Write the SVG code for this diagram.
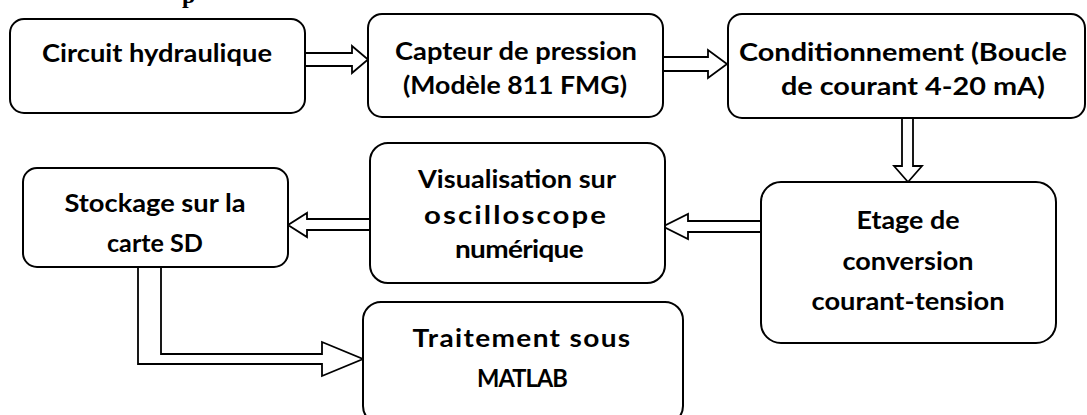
<svg xmlns="http://www.w3.org/2000/svg" width="1087" height="415" viewBox="0 0 1087 415">
<style>
.box{fill:#fff;stroke:#000;stroke-width:2}
.arr{fill:#fff;stroke:#000;stroke-width:1.8;stroke-linejoin:miter}
.t{font-family:Lato,"Open Sans","Liberation Sans",sans-serif;font-weight:bold;font-size:25px;fill:#000;text-anchor:middle}
.ttl{font-family:"Liberation Serif",serif;font-weight:bold;font-size:24px;fill:#000}
</style>
<rect width="1087" height="415" fill="#fff"/>
<text class="ttl" x="182" y="3">p</text>
<g id="connectors">
<polygon class="arr" points="305,53 352,53 352,46 368,59.5 352,73 352,66 305,66"/>
<polygon class="arr" points="663,57 708,57 708,50 727,64 708,78 708,71 663,71"/>
<polygon class="arr" points="902,118 913,118 913,166 922,166 908,182 894,166 902,166"/>
<polygon class="arr" points="761,221 688,221 688,214 663,226.5 688,239 688,232 761,232"/>
<polygon class="arr" points="370,219 307,219 307,213 288,225 307,237 307,230 370,230"/>
<polygon class="arr" points="138,267 138,364 322,364 322,376 363,359 322,342 322,354 161,354 161,267"/>
</g>
<g id="n1"><rect class="box" x="10" y="19" width="295" height="94" rx="14"/>
<text class="t" x="157" y="62" textLength="230" lengthAdjust="spacingAndGlyphs">Circuit hydraulique</text></g>
<g id="n2"><rect class="box" x="368" y="14" width="295" height="103" rx="14"/>
<text class="t" x="516" y="60" textLength="242" lengthAdjust="spacingAndGlyphs">Capteur de pression</text>
<text class="t" x="515" y="94" textLength="224" lengthAdjust="spacingAndGlyphs">(Modèle 811 FMG)</text></g>
<g id="n3"><rect class="box" x="728" y="14" width="357" height="104" rx="14"/>
<text class="t" x="903" y="61" textLength="328" lengthAdjust="spacingAndGlyphs">Conditionnement (Boucle</text>
<text class="t" x="913" y="95" textLength="264" lengthAdjust="spacingAndGlyphs">de courant 4-20 mA)</text></g>
<g id="n4"><rect class="box" x="761" y="182" width="295" height="161" rx="20"/>
<text class="t" x="908" y="229" textLength="103" lengthAdjust="spacingAndGlyphs">Etage de</text>
<text class="t" x="908" y="270" textLength="131" lengthAdjust="spacingAndGlyphs">conversion</text>
<text class="t" x="908" y="310" textLength="193" lengthAdjust="spacingAndGlyphs">courant-tension</text></g>
<g id="n5"><rect class="box" x="370" y="143" width="295" height="140" rx="18"/>
<text class="t" x="517" y="188" textLength="198" lengthAdjust="spacingAndGlyphs">Visualisation sur</text>
<text class="t" x="516" y="224" textLength="184" lengthAdjust="spacingAndGlyphs" letter-spacing="1.8">oscilloscope</text>
<text class="t" x="519" y="258" textLength="128" lengthAdjust="spacingAndGlyphs" letter-spacing="-0.6">numérique</text></g>
<g id="n6"><rect class="box" x="23" y="168" width="265" height="99" rx="14"/>
<text class="t" x="155" y="212" textLength="181" lengthAdjust="spacingAndGlyphs">Stockage sur la</text>
<text class="t" x="155" y="252" textLength="96" lengthAdjust="spacingAndGlyphs">carte SD</text></g>
<g id="n7"><rect class="box" x="363" y="302" width="320" height="122" rx="18"/>
<text class="t" x="522" y="347" textLength="219" lengthAdjust="spacingAndGlyphs" letter-spacing="1.2">Traitement sous</text>
<text class="t" x="522" y="387" textLength="90" lengthAdjust="spacingAndGlyphs" letter-spacing="-1">MATLAB</text></g>
</svg>
